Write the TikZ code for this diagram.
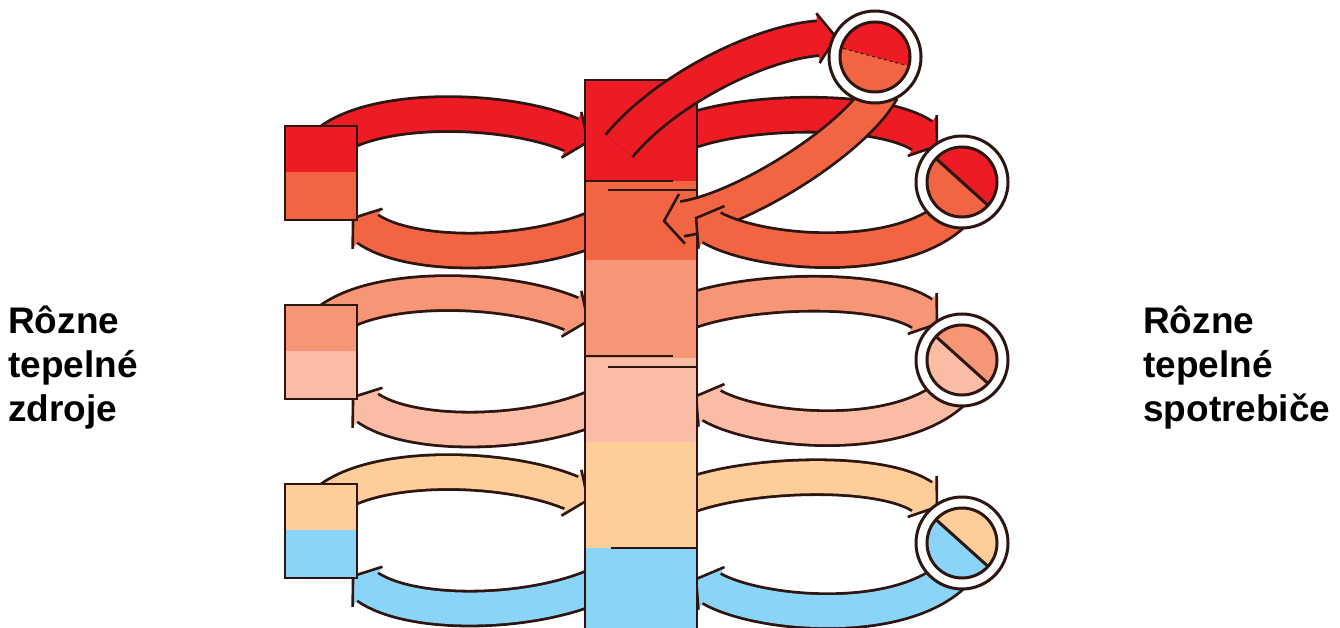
\documentclass[tikz,border=0pt]{standalone}
\usepackage{fontspec}
\setmainfont{Liberation Sans}
\usetikzlibrary{positioning,fit,calc,backgrounds,decorations.markings}
\definecolor{lineCol}{RGB}{45,22,18}
\definecolor{redCol}{RGB}{237,28,36}
\definecolor{oranCol}{RGB}{242,101,66}
\definecolor{salmCol}{RGB}{246,150,118}
\definecolor{pinkCol}{RGB}{251,188,166}
\definecolor{peachCol}{RGB}{253,206,154}
\definecolor{blueCol}{RGB}{138,212,247}
\tikzset{
  layer/.style={inner sep=0pt,outer sep=0pt,minimum width=112pt},
  part/.style={inner sep=0pt,outer sep=0pt,minimum width=72pt},
  frame/.style={draw=lineCol,line width=2pt,inner sep=0pt,outer sep=0pt},
  flow/.style={
    preaction={draw=lineCol,double=#1,double distance=32pt,line width=2.8pt,shorten >=16pt},
    postaction={decorate,decoration={markings,mark=at position -0.1pt with {
      \fill[#1] (-18pt,-25pt) -- (0pt,0pt) -- (-18pt,25pt) -- cycle;
      \draw[lineCol,line width=2.6pt] (-18pt,-25pt) -- (0pt,0pt) -- (-18pt,25pt);
    }}}},
  ring/.style={circle,draw=lineCol,fill=white,line width=3pt,minimum size=92pt,inner sep=0pt},
  disc/.style={circle,draw=lineCol,line width=3pt,minimum size=70pt,inner sep=0pt},
  mark line/.style={draw=lineCol,line width=2.6pt},
  lab/.style={font=\fontsize{37}{44}\selectfont\bfseries,align=left,anchor=north west,inner sep=0pt},
}
% name, position, divider angle, upper colour, lower colour, divider look
\newcommand{\sink}[6]{
  \node[ring] (#1) at (#2) {};
  \node[disc,fill=#4,path picture={
    \fill[#5] ($(#1)+(#3:60)$) -- ($(#1)+(#3+90:85)$) -- ($(#1)+(#3+180:60)$) -- cycle;
    \draw[lineCol,#6] ($(#1)+(#3:60)$) -- ($(#1)+(#3+180:60)$);
  }] (#1in) at (#1) {};
}
\begin{document}
\begin{tikzpicture}[x=1pt,y=-1pt]
  \useasboundingbox (0,0) rectangle (1340,628);
  % the stack in the middle
  \node[layer,fill=redCol,minimum height=101pt] (t1) at (641,130.5) {};
  \node[layer,fill=oranCol,minimum height=79pt,below=0pt of t1] (t2) {};
  \node[layer,fill=salmCol,minimum height=98pt,below=0pt of t2] (t3) {};
  \node[layer,fill=pinkCol,minimum height=84pt,below=0pt of t3] (t4) {};
  \node[layer,fill=peachCol,minimum height=106pt,below=0pt of t4] (t5) {};
  \node[layer,fill=blueCol,minimum height=80pt,below=0pt of t5] (t6) {};
  % sources on the left
  \node[part,fill=redCol,minimum height=46pt] (s1a) at (321,149) {};
  \node[part,fill=oranCol,minimum height=48pt,below=0pt of s1a] (s1b) {};
  \node[part,fill=salmCol,minimum height=46pt] (s2a) at (321,328) {};
  \node[part,fill=pinkCol,minimum height=48pt,below=0pt of s2a] (s2b) {};
  \node[part,fill=peachCol,minimum height=46pt] (s3a) at (321,507) {};
  \node[part,fill=blueCol,minimum height=48pt,below=0pt of s3a] (s3b) {};
  \node[frame,fit=(s1a)(s1b)] (s1) {};
  \node[frame,fit=(s2a)(s2b)] (s2) {};
  \node[frame,fit=(s3a)(s3b)] (s3) {};
  \coordinate (c1) at (875,57);
  \coordinate (c2) at (962,182);
  \coordinate (c3) at (962,360);
  \coordinate (c4) at (962,543);
  % flows behind the boxes
  \begin{scope}[on background layer]
  \path[flow=redCol] ($(s1a.north east)+(-27,15)$) .. controls +(50,-37) and +(-78,-34) .. ($(t1.west)+(3,11.5)$);
  \path[flow=salmCol] ($(s2a.north east)+(-27,15)$) .. controls +(50,-37) and +(-78,-34) .. ($(t3.west)+(3,12)$);
  \path[flow=peachCol] ($(s3a.north east)+(-27,15)$) .. controls +(50,-37) and +(-78,-34) .. ($(t5.west)+(3,5)$);
  \path[flow=oranCol] ($(t2.west)+(15,5.5)$) .. controls +(-70,32) and +(55,41) .. ($(s1b.south east)+(-4,-2)$);
  \path[flow=pinkCol] ($(t4.west)+(15,5)$) .. controls +(-70,32) and +(55,41) .. ($(s2b.south east)+(-4,-2)$);
  \path[flow=blueCol] ($(t6.west)+(15,-4)$) .. controls +(-70,32) and +(55,41) .. ($(s3b.south east)+(-4,-2)$);
  % flows on the right
  \path[flow=redCol] ($(t1.east)+(-12,2.5)$) .. controls +(60,-24) and +(-55,-39) .. ($(c2)+(-25,-36)$);
  \path[flow=salmCol] ($(t3.east)+(-12,4)$) .. controls +(60,-24) and +(-55,-39) .. ($(c3)+(-25,-36)$);
  \path[flow=peachCol] ($(t5.east)+(-12,2)$) .. controls +(60,-24) and +(-55,-39) .. ($(c4)+(-25,-36)$);
  \path[flow=pinkCol] ($(c3)+(-7,30)$) .. controls +(-55,55) and +(59,36) .. ($(t4.east)+(-1,-4)$);
  \path[flow=blueCol] ($(c4)+(-7,30)$) .. controls +(-55,55) and +(59,36) .. ($(t6.east)+(-1,-9)$);
  \end{scope}
  % outline of the stack
  \draw[lineCol,line width=2.4pt] (t6.south west) -- (t1.north west) -- (t1.north east) -- (t6.south east);
  % the flows that run over the stack
  \path[flow=redCol] ($(t1.center)+(-22,15.5)$) .. controls +(46,-56) and +(-76,5) .. ($(c1)+(-39,-20)$);
  \path[flow=oranCol] ($(c1)+(7,33)$) .. controls +(-27,50) and +(76,-9) .. ($(t2.center)+(23,0.5)$);
  \path[flow=oranCol] ($(c2)+(-7,30)$) .. controls +(-55,55) and +(59,36) .. ($(t2.east)+(-1,-2.5)$);
  % lines between the layers
  \draw[mark line] (t1.south west) -- ++(88,0);
  \draw[mark line] ($(t2.north east)+(-89,9)$) -- ($(t2.north east)+(0,9)$);
  \draw[mark line] ($(t3.south west)+(0,-2)$) -- ++(88,0);
  \draw[mark line] ($(t4.north east)+(-89,9)$) -- ($(t4.north east)+(0,9)$);
  \draw[mark line] (t6.north east) -- ++(-86,0);
  % burners on the right
  \sink{c1}{875,57}{15}{redCol}{oranCol}{line width=1pt,dashed}
  \sink{c2}{962,182}{42}{redCol}{oranCol}{line width=3pt}
  \sink{c3}{962,360}{42}{salmCol}{pinkCol}{line width=3pt}
  \sink{c4}{962,543}{42}{peachCol}{blueCol}{line width=3pt}
  % captions
  \node[lab] (zdroje) at (8,306) {Rôzne\\tepelné\\zdroje};
  \node[lab] (spotr) at (1143,306) {Rôzne\\tepelné\\spotrebiče};
\end{tikzpicture}
\end{document}
